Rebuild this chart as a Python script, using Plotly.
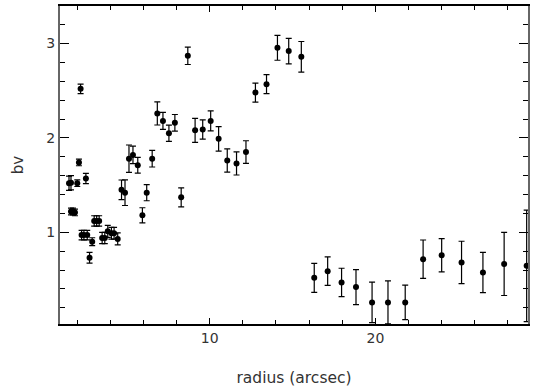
import plotly.graph_objects as go

radius = [1.51, 1.63, 1.63, 1.75, 1.87, 2.01, 2.11, 2.21, 2.27, 2.41, 2.53, 2.61,
          2.75, 2.91, 3.03, 3.18, 3.33, 3.51, 3.67, 3.85, 4.07, 4.23, 4.45, 4.68,
          4.89, 5.13, 5.37, 5.66, 5.94, 6.20, 6.53, 6.84, 7.18, 7.54, 7.90, 8.28,
          8.68, 9.12, 9.58, 10.06, 10.54, 11.06, 11.62, 12.19, 12.76, 13.43, 14.09,
          14.77, 15.53, 16.31, 17.12, 17.96, 18.83, 19.80, 20.76, 21.80, 22.88,
          24.00, 25.20, 26.49, 27.77, 29.13]
bv = [1.52, 1.525, 1.22, 1.22, 1.21, 1.52, 1.74, 2.52, 0.97, 0.97, 1.57, 0.97,
      0.73, 0.90, 1.12, 1.12, 1.12, 0.94, 0.94, 1.01, 0.99, 0.99, 0.93, 1.45,
      1.42, 1.78, 1.82, 1.71, 1.18, 1.42, 1.78, 2.26, 2.18, 2.05, 2.16, 1.37,
      2.87, 2.08, 2.09, 2.18, 1.99, 1.76, 1.73, 1.85, 2.48, 2.57, 2.955,
      2.92, 2.86, 0.517, 0.588, 0.469, 0.419, 0.257, 0.257, 0.257, 0.715,
      0.757, 0.68, 0.574, 0.665, 0.644]
bv_err = [0.076, 0.076, 0.035, 0.035, 0.035, 0.035, 0.035, 0.05, 0.05, 0.05, 0.055, 0.05,
          0.056, 0.042, 0.055, 0.055, 0.055, 0.06, 0.06, 0.063, 0.063, 0.063, 0.063, 0.104,
          0.136, 0.145, 0.092, 0.083, 0.08, 0.086, 0.088, 0.123, 0.09, 0.086, 0.088, 0.10,
          0.092, 0.128, 0.102, 0.106, 0.13, 0.123, 0.123, 0.12, 0.10, 0.10, 0.132,
          0.135, 0.162, 0.153, 0.151, 0.15, 0.185, 0.215, 0.227, 0.183, 0.203,
          0.176, 0.225, 0.214, 0.335, 0.59]

x_ticks = [10, 20]
y_ticks = [1, 2, 3]

fig = go.Figure()
fig.add_trace(go.Scatter(
    x=radius, y=bv, mode="markers",
    marker=dict(color="black", size=6),
    error_y=dict(type="data", array=bv_err, visible=True, color="black",
                 thickness=1.2, width=3),
    showlegend=False,
))

font = "DejaVu Sans, Liberation Sans, sans-serif"
fig.update_layout(
    width=534, height=390,
    margin=dict(l=60, r=4, t=5, b=66),
    paper_bgcolor="white", plot_bgcolor="white",
    font=dict(family=font, size=14, color="#333"),
    xaxis=dict(
        range=[0.967, 29.21], tickvals=x_ticks, ticktext=[str(v) for v in x_ticks],
        ticks="inside", ticklen=6, tickcolor="black", tickwidth=1,
        minor=dict(dtick=2, tick0=0, ticks="inside", ticklen=4, tickcolor="black"),
        showline=True, linecolor="black", linewidth=1.5, mirror="ticks",
        showgrid=False, zeroline=False,
        title=dict(text="radius (arcsec)", standoff=28, font=dict(size=15.5)),
    ),
    yaxis=dict(
        range=[0.028, 3.398], tickvals=y_ticks, ticktext=[str(v) for v in y_ticks],
        ticks="inside", ticklen=9, tickcolor="black", tickwidth=1,
        minor=dict(dtick=0.2, tick0=0, ticks="inside", ticklen=5, tickcolor="black"),
        showline=True, linecolor="#666", linewidth=2, mirror="ticks",
        showgrid=False, zeroline=False,
        title=dict(text="bv", standoff=19, font=dict(size=15)),
    ),
)

fig.write_html("out.html")
